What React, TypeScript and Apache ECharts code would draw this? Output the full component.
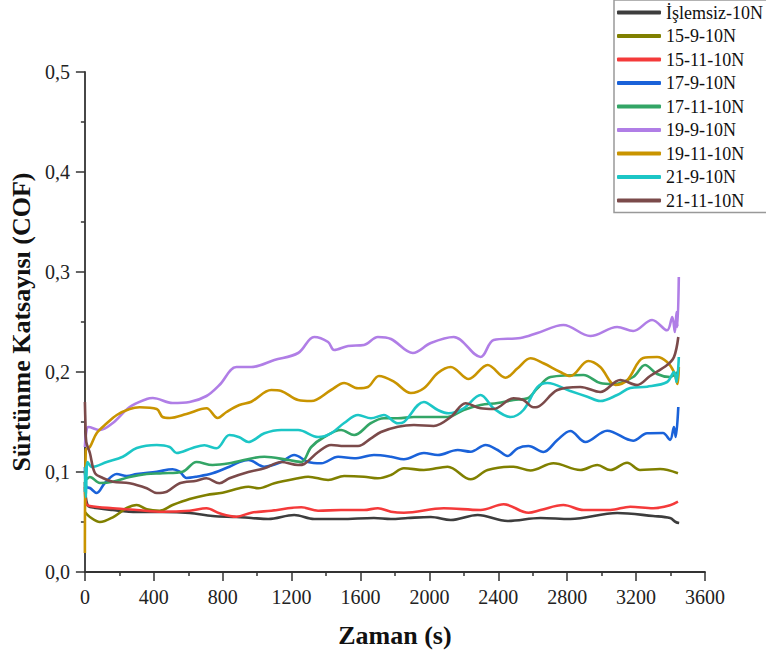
import React, { useEffect, useRef } from "react";
import * as echarts from "echarts";

const seriesNames = [
  "İşlemsiz-10N",
  "15-9-10N",
  "15-11-10N",
  "17-9-10N",
  "17-11-10N",
  "19-9-10N",
  "19-11-10N",
  "21-9-10N",
  "21-11-10N",
];

const seriesColors = [
  "#3d3d3d",
  "#808000",
  "#f43a3a",
  "#1a62d9",
  "#33a566",
  "#b07ee6",
  "#c99400",
  "#1cc6c6",
  "#7b4a4a",
];

const xTicks = [0, 400, 800, 1200, 1600, 2000, 2400, 2800, 3200, 3600];
const yTicks = [0, 0.1, 0.2, 0.3, 0.4, 0.5];

// [time (s), COF]
const islemsiz = [
  [0, 0.09], [5, 0.075], [15, 0.067], [29, 0.065], [162, 0.062], [301, 0.06], [451, 0.06],
  [608, 0.059], [741, 0.056], [880, 0.055], [966, 0.054], [1065, 0.053], [1215, 0.057],
  [1331, 0.053], [1487, 0.053], [1678, 0.054], [1777, 0.053], [1875, 0.054], [2008, 0.055],
  [2124, 0.052], [2280, 0.057], [2454, 0.051], [2645, 0.054], [2818, 0.053], [3090, 0.059],
  [3299, 0.056], [3397, 0.054], [3430, 0.05], [3450, 0.049],
];
const s15_9 = [
  [0, 0.06], [29, 0.055], [87, 0.05], [162, 0.0547], [243, 0.064], [301, 0.067], [359, 0.0627],
  [434, 0.0613], [509, 0.067], [608, 0.073], [706, 0.077], [799, 0.0793], [897, 0.0837],
  [949, 0.0853], [1007, 0.0837], [1100, 0.0887], [1238, 0.0937], [1296, 0.0953], [1412, 0.092],
  [1505, 0.096], [1620, 0.0953], [1701, 0.0937], [1777, 0.097], [1852, 0.1037], [1968, 0.102],
  [2106, 0.1053], [2240, 0.0927], [2338, 0.102], [2488, 0.1053], [2587, 0.1015], [2720, 0.1087],
  [2876, 0.102], [2975, 0.107], [3050, 0.102], [3148, 0.1093], [3223, 0.102], [3339, 0.103],
  [3443, 0.0987],
];
const s15_11 = [
  [0, 0.085], [8, 0.068], [29, 0.066], [162, 0.0637], [301, 0.062], [451, 0.0603], [608, 0.0613],
  [706, 0.0637], [781, 0.0587], [880, 0.0553], [966, 0.0593], [1082, 0.0613], [1256, 0.0647],
  [1354, 0.0613], [1487, 0.062], [1620, 0.062], [1701, 0.0637], [1777, 0.0603], [1852, 0.0593],
  [2083, 0.0637], [2297, 0.062], [2431, 0.0677], [2575, 0.0593], [2645, 0.062], [2778, 0.067],
  [2894, 0.062], [3050, 0.062], [3166, 0.0653], [3299, 0.0637], [3397, 0.0667], [3443, 0.0703],
];
const s17_9 = [
  [0, 0.105], [8, 0.085], [29, 0.084], [69, 0.079], [116, 0.089], [185, 0.098], [243, 0.096],
  [301, 0.098], [417, 0.1003], [509, 0.1027], [550, 0.1003], [590, 0.094], [648, 0.0953],
  [741, 0.0987], [839, 0.1053], [897, 0.11], [949, 0.112], [1042, 0.1053], [1140, 0.11],
  [1215, 0.117], [1296, 0.11], [1372, 0.1087], [1470, 0.1153], [1563, 0.1137], [1678, 0.117],
  [1777, 0.1153], [1852, 0.1127], [1968, 0.119], [2049, 0.117], [2164, 0.122], [2240, 0.1203],
  [2326, 0.127], [2396, 0.122], [2454, 0.116], [2512, 0.1237], [2575, 0.126], [2662, 0.12],
  [2743, 0.132], [2818, 0.141], [2905, 0.13], [3032, 0.1413], [3183, 0.1313], [3264, 0.1387],
  [3356, 0.139], [3397, 0.132], [3420, 0.145], [3430, 0.135], [3445, 0.165],
];
const s17_11 = [
  [0, 0.1], [10, 0.093], [29, 0.095], [87, 0.089], [162, 0.0903], [260, 0.095], [359, 0.098],
  [451, 0.0987], [567, 0.1003], [648, 0.11], [741, 0.107], [839, 0.1087], [1042, 0.1153],
  [1180, 0.112], [1256, 0.11], [1314, 0.125], [1389, 0.135], [1487, 0.142], [1563, 0.137],
  [1661, 0.149], [1736, 0.1537], [1817, 0.1537], [1910, 0.155], [2008, 0.155], [2106, 0.155],
  [2199, 0.162], [2297, 0.167], [2396, 0.169], [2488, 0.172], [2570, 0.1737], [2627, 0.1837],
  [2703, 0.195], [2894, 0.197], [2992, 0.189], [3067, 0.188], [3183, 0.195], [3252, 0.207],
  [3322, 0.198], [3397, 0.195], [3440, 0.2],
];
const s19_9 = [
  [0, 0.125], [8, 0.14], [20, 0.145], [87, 0.142], [162, 0.149], [260, 0.165], [359, 0.173],
  [394, 0.174], [509, 0.169], [608, 0.17], [706, 0.176], [781, 0.187], [880, 0.205], [966, 0.205],
  [1100, 0.212], [1238, 0.219], [1331, 0.235], [1412, 0.23], [1447, 0.222], [1528, 0.226],
  [1620, 0.227], [1701, 0.235], [1777, 0.233], [1904, 0.219], [2008, 0.229], [2141, 0.235],
  [2297, 0.215], [2373, 0.232], [2529, 0.234], [2627, 0.239], [2778, 0.247], [2934, 0.236],
  [3090, 0.245], [3183, 0.241], [3293, 0.252], [3380, 0.2417], [3410, 0.255], [3425, 0.24],
  [3435, 0.26], [3440, 0.245], [3448, 0.295],
];
const s19_11 = [
  [0, 0.019], [5, 0.122], [29, 0.125], [69, 0.139], [127, 0.1487], [185, 0.157], [260, 0.163],
  [318, 0.1647], [417, 0.163], [451, 0.155], [492, 0.154], [590, 0.158], [706, 0.1637],
  [770, 0.154], [822, 0.16], [897, 0.167], [966, 0.1703], [1082, 0.182], [1140, 0.181],
  [1238, 0.172], [1314, 0.171], [1429, 0.182], [1505, 0.189], [1586, 0.1837], [1643, 0.185],
  [1707, 0.196], [1794, 0.1903], [1892, 0.179], [1968, 0.1837], [2049, 0.199], [2124, 0.205],
  [2228, 0.193], [2338, 0.207], [2442, 0.1943], [2512, 0.2037], [2587, 0.2137], [2662, 0.2087],
  [2760, 0.2], [2818, 0.196], [2922, 0.211], [2992, 0.205], [3079, 0.187], [3148, 0.1917],
  [3241, 0.214], [3322, 0.215], [3380, 0.21], [3420, 0.2], [3440, 0.188], [3448, 0.205],
];
const s21_9 = [
  [0, 0.08], [3, 0.105], [6, 0.075], [10, 0.1], [15, 0.11], [41, 0.105], [127, 0.11],
  [220, 0.1153], [301, 0.124], [417, 0.127], [492, 0.125], [532, 0.119], [625, 0.124],
  [694, 0.1267], [764, 0.1237], [839, 0.137], [897, 0.1347], [949, 0.13], [1042, 0.1387],
  [1140, 0.142], [1238, 0.142], [1354, 0.135], [1429, 0.1387], [1505, 0.149], [1586, 0.157],
  [1661, 0.1537], [1736, 0.157], [1817, 0.1487], [1852, 0.15], [1968, 0.17], [2049, 0.162],
  [2112, 0.1587], [2199, 0.1637], [2297, 0.177], [2373, 0.1637], [2471, 0.155], [2546, 0.162],
  [2627, 0.185], [2685, 0.189], [2818, 0.181], [2917, 0.1753], [2992, 0.171], [3090, 0.177],
  [3166, 0.184], [3264, 0.1853], [3380, 0.19], [3420, 0.2], [3435, 0.19], [3448, 0.215],
];
const s21_11 = [
  [0, 0.17], [3, 0.15], [8, 0.13], [29, 0.119], [58, 0.099], [104, 0.094], [162, 0.0903],
  [260, 0.0887], [359, 0.0837], [417, 0.079], [475, 0.0803], [550, 0.0887], [648, 0.0913],
  [706, 0.0937], [781, 0.0887], [839, 0.0937], [949, 0.1], [1042, 0.1037], [1140, 0.11],
  [1238, 0.107], [1273, 0.108], [1354, 0.12], [1429, 0.127], [1505, 0.126], [1586, 0.126],
  [1661, 0.1337], [1719, 0.14], [1817, 0.1453], [1910, 0.147], [2025, 0.146], [2124, 0.155],
  [2210, 0.1687], [2297, 0.1637], [2373, 0.163], [2488, 0.1737], [2546, 0.172], [2604, 0.1647],
  [2627, 0.165], [2743, 0.182], [2876, 0.185], [2992, 0.18], [3108, 0.192], [3206, 0.187],
  [3281, 0.196], [3380, 0.207], [3420, 0.215], [3445, 0.235],
];

const seriesData = [islemsiz, s15_9, s15_11, s17_9, s17_11, s19_9, s19_11, s21_9, s21_11];

const FONT = '"Liberation Serif", "Times New Roman", serif';

export default function App() {
  const ref = useRef<HTMLDivElement>(null);

  useEffect(() => {
    if (!ref.current) return;
    const chart = echarts.init(ref.current, undefined, { renderer: "svg" });
    const axisColor = "#333";
    chart.setOption({
      animation: false,
      backgroundColor: "#fff",
      grid: { left: 83, right: 61, top: 72, bottom: 87, containLabel: false },
      legend: {
        orient: "vertical",
        left: 614,
        top: 0,
        data: seriesNames,
        icon: "roundRect",
        itemWidth: 44,
        itemHeight: 4,
        itemGap: 5.5,
        padding: [3.5, 20, 3, 3],
        borderColor: "#999",
        borderWidth: 1.5,
        textStyle: { fontFamily: FONT, fontSize: 18, color: "#111" },
      },
      xAxis: {
        type: "value",
        min: xTicks[0],
        max: xTicks[xTicks.length - 1],
        interval: 400,
        name: "Zaman (s)",
        nameLocation: "middle",
        nameGap: 50,
        nameTextStyle: { fontFamily: FONT, fontSize: 26, fontWeight: "bold", color: "#111" },
        axisLine: { show: true, onZero: false, lineStyle: { color: axisColor, width: 1.8 } },
        axisTick: { show: true, inside: false, length: 9, lineStyle: { color: axisColor, width: 1.5 } },
        minorTick: { show: true, splitNumber: 2, length: 4, lineStyle: { color: axisColor, width: 1.5 } },
        splitLine: { show: false },
        axisLabel: {
          fontFamily: FONT,
          fontSize: 20,
          color: "#222",
          margin: 15,
          formatter: (v: number) => String(v),
        },
      },
      yAxis: {
        type: "value",
        min: yTicks[0],
        max: yTicks[yTicks.length - 1],
        interval: 0.1,
        name: "Sürtünme Katsayısı (COF)",
        nameLocation: "middle",
        nameGap: 48,
        nameTextStyle: { fontFamily: FONT, fontSize: 26, fontWeight: "bold", color: "#111" },
        axisLine: { show: true, onZero: false, lineStyle: { color: axisColor, width: 1.8 } },
        axisTick: { show: true, inside: false, length: 9, lineStyle: { color: axisColor, width: 1.5 } },
        minorTick: { show: true, splitNumber: 2, length: 4, lineStyle: { color: axisColor, width: 1.5 } },
        splitLine: { show: false },
        axisLabel: {
          fontFamily: FONT,
          fontSize: 20,
          color: "#222",
          margin: 15,
          formatter: (v: number) => v.toFixed(1).replace(".", ","),
        },
      },
      series: seriesNames.map((name, i) => ({
        name,
        type: "line",
        data: seriesData[i],
        showSymbol: false,
        symbol: "none",
        smooth: 0.35,
        clip: true,
        color: seriesColors[i],
        lineStyle: { color: seriesColors[i], width: 2.6 },
      })),
    });
    return () => chart.dispose();
  }, []);

  return (
    <div
      ref={ref}
      style={{ position: "fixed", left: 0, top: 0, width: 766, height: 659, background: "#fff" }}
    />
  );
}
